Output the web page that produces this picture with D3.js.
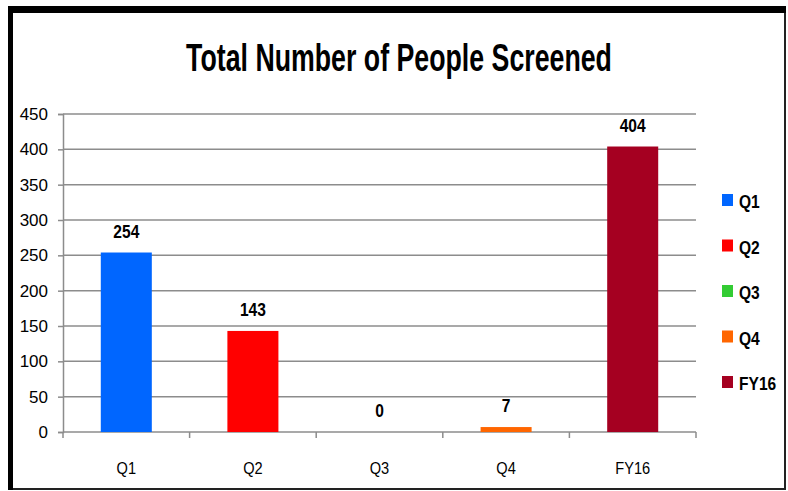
<!DOCTYPE html>
<html>
<head>
<meta charset="utf-8">
<script src="https://cdn.jsdelivr.net/npm/d3@7"></script>
<style>
  body { margin: 0; background: #fff; }
  text { font-family: "Liberation Sans", Arial, sans-serif; fill: #000; }
</style>
</head>
<body>
<div id="chart"></div>
<script>
// Data
var categories = ["Q1", "Q2", "Q3", "Q4", "FY16"]
var values = [254, 143, 0, 7, 404]
var colors = ["#0066ff", "#ff0000", "#33cc33", "#ff6600", "#a50021"]
var yTicks = [0, 50, 100, 150, 200, 250, 300, 350, 400, 450]

var W = 788, H = 491
var margin = {top: 114, left: 63, right: 92, bottom: 59}
var width = W - margin.left - margin.right,
    height = H - margin.top - margin.bottom

// narrow text: the original uses a condensed face, so squeeze horizontally
function narrowText(parent, x, y, str, size, bold, sx, anchor) {
  return parent.append("g")
    .attr("transform", "translate(" + x + "," + y + ") scale(" + sx + ",1)")
    .append("text")
    .attr("text-anchor", anchor || "middle")
    .style("font-size", size + "px")
    .style("font-weight", bold ? "bold" : "normal")
    .text(str)
}

var svg = d3.select("#chart").append("svg")
  .attr("width", W)
  .attr("height", H)

// Frame (thick top/left, thin right/bottom)
svg.append("rect")
  .attr("x", 9).attr("y", 8).attr("width", 776).attr("height", 481)
  .attr("fill", "#fff").attr("stroke", "#222").attr("stroke-width", 2)
svg.append("rect").attr("x", 8).attr("y", 6).attr("width", 778).attr("height", 7).attr("fill", "#000")
svg.append("rect").attr("x", 8).attr("y", 6).attr("width", 5).attr("height", 484).attr("fill", "#000")

// Title - squeezed to the width it has in the original
var title = narrowText(svg, 399, 71, "Total Number of People Screened", 38, true, 1)
var titleScale = 426 / title.node().getComputedTextLength()
d3.select(title.node().parentNode)
  .attr("transform", "translate(399,71) scale(" + titleScale + ",1)")

var g = svg.append("g")
  .attr("transform", "translate(" + margin.left + "," + margin.top + ")")

// Scales
var x = d3.scaleBand().domain(categories).range([0, width]).padding(0)
var y = d3.scaleLinear().domain([0, 450]).range([height, 0])

// Gridlines
g.append("g").selectAll("line")
  .data(yTicks.slice(1))
  .enter().append("line")
  .attr("x1", 0).attr("x2", width)
  .attr("y1", d => y(d)).attr("y2", d => y(d))
  .attr("stroke", "#8c8c8c").attr("stroke-width", 1.5)

// Y axis
var yAxis = g.append("g")
  .call(d3.axisLeft(y).tickValues(yTicks).tickSize(5).tickPadding(10))
yAxis.select(".domain").attr("stroke", "#8c8c8c").attr("stroke-width", 1.5)
yAxis.selectAll(".tick line").attr("stroke", "#8c8c8c").attr("stroke-width", 1.5)
yAxis.selectAll("text")
  .style("font-size", "17px")
  .style("font-family", "'Liberation Sans', Arial, sans-serif")
  .attr("fill", "#000")

// X axis (ticks at category boundaries)
var xAxis = g.append("g").attr("transform", "translate(0," + height + ")")
xAxis.append("line").attr("x1", 0).attr("x2", width)
  .attr("stroke", "#8c8c8c").attr("stroke-width", 1.5)
xAxis.selectAll(".bt")
  .data(categories.concat(["end"]))
  .enter().append("line")
  .attr("class", "bt")
  .attr("x1", (d, i) => i < categories.length ? x(d) : width)
  .attr("x2", (d, i) => i < categories.length ? x(d) : width)
  .attr("y1", 0).attr("y2", 6)
  .attr("stroke", "#8c8c8c").attr("stroke-width", 1.5)
categories.forEach(function(c) {
  narrowText(xAxis, x(c) + x.bandwidth() / 2, 42, c, 17, false, 0.86)
})

// Bars
var barW = x.bandwidth() * 0.403
g.append("g").selectAll("rect")
  .data(values)
  .enter().append("rect")
  .attr("x", (d, i) => x(categories[i]) + (x.bandwidth() - barW) / 2)
  .attr("y", d => y(d))
  .attr("width", barW)
  .attr("height", d => height - y(d))
  .attr("fill", (d, i) => colors[i])

// Value labels
var labels = g.append("g")
values.forEach(function(v, i) {
  narrowText(labels, x(categories[i]) + x.bandwidth() / 2, y(v) - 15, v, 19, true, 0.82)
})

// Legend
var legend = svg.append("g").attr("transform", "translate(722,194)")
categories.forEach(function(c, i) {
  var item = legend.append("g").attr("transform", "translate(0," + (i * 45.5) + ")")
  item.append("rect").attr("width", 11).attr("height", 12).attr("fill", colors[i])
  narrowText(item, 17, 14, c, 19, true, 0.82, "start")
})
</script>
</body>
</html>
